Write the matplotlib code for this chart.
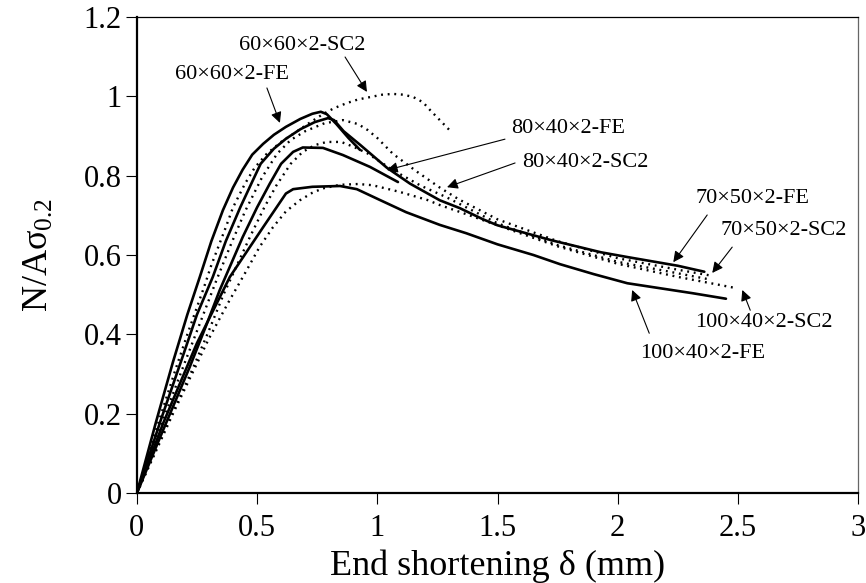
import matplotlib
matplotlib.use("Agg")
import matplotlib.pyplot as plt

# -----------------------------
# FONT SETUP
# -----------------------------
plt.rcParams["font.family"] = ["Liberation Serif", "DejaVu Serif"]
plt.rcParams["mathtext.fontset"] = "custom"
plt.rcParams["mathtext.rm"] = "Liberation Serif"
plt.rcParams["mathtext.it"] = "Liberation Serif:italic"

# -----------------------------
# LOAD-SHORTENING CURVES (end shortening in mm, N/A*sigma_0.2)
# -----------------------------
fe_60x60_x = [0, 0.08, 0.15, 0.21, 0.262, 0.31, 0.358, 0.40, 0.44, 0.48, 0.525, 0.57, 0.62,
              0.68, 0.73, 0.765, 0.79, 0.83, 0.88, 0.928]
fe_60x60_y = [0, 0.18, 0.33, 0.45, 0.545, 0.635, 0.713, 0.77, 0.815, 0.853, 0.88, 0.903, 0.923,
              0.943, 0.956, 0.961, 0.955, 0.93, 0.895, 0.865]

sc2_60x60_x = [0, 0.08, 0.16, 0.21, 0.28, 0.31, 0.37, 0.40, 0.45, 0.49, 0.54, 0.6, 0.65, 0.71,
               0.774, 0.82, 0.874, 0.92, 0.97, 1.02, 1.065, 1.11, 1.15, 1.19, 1.22, 1.26, 1.30]
sc2_60x60_y = [0, 0.16, 0.31, 0.40, 0.52, 0.575, 0.67, 0.72, 0.78, 0.82, 0.855, 0.885, 0.905,
               0.93, 0.955, 0.97, 0.983, 0.992, 0.998, 1.004, 1.006, 1.004, 0.998, 0.985, 0.965,
               0.94, 0.915]

fe_70x50_x = [0, 0.1, 0.19, 0.25, 0.316, 0.37, 0.43, 0.48, 0.515, 0.57, 0.62, 0.68, 0.74,
              0.795, 0.82, 0.86, 0.93, 1.04, 1.136, 1.26, 1.344, 1.44, 1.5, 1.72, 1.93, 2.04,
              2.25, 2.36]
fe_70x50_y = [0, 0.185, 0.343, 0.45, 0.545, 0.635, 0.72, 0.785, 0.83, 0.868, 0.893, 0.917, 0.935,
              0.945, 0.94, 0.912, 0.877, 0.82, 0.78, 0.738, 0.718, 0.69, 0.675, 0.638, 0.607,
              0.595, 0.573, 0.558]

sc2_70x50_x = [0, 0.1, 0.2, 0.27, 0.33, 0.39, 0.45, 0.52, 0.583, 0.64, 0.7, 0.78, 0.857, 0.92,
               0.96, 1.0, 1.065, 1.165, 1.26, 1.34, 1.5, 1.75, 2.0, 2.25, 2.39]
sc2_70x50_y = [0, 0.17, 0.33, 0.44, 0.535, 0.625, 0.71, 0.795, 0.855, 0.89, 0.912, 0.932, 0.94,
               0.93, 0.915, 0.895, 0.855, 0.81, 0.77, 0.74, 0.69, 0.635, 0.592, 0.563, 0.548]

fe_80x40_x = [0, 0.11, 0.22, 0.29, 0.345, 0.44, 0.5, 0.553, 0.6, 0.65, 0.69, 0.774, 0.857,
              0.97, 1.086]
fe_80x40_y = [0, 0.16, 0.318, 0.425, 0.512, 0.645, 0.72, 0.78, 0.83, 0.86, 0.871, 0.870, 0.852,
              0.822, 0.784]

sc2_80x40_x = [0, 0.12, 0.23, 0.30, 0.36, 0.47, 0.53, 0.58, 0.64, 0.69, 0.74, 0.79, 0.85,
               0.9, 0.957, 1.065, 1.18, 1.29, 1.5, 1.75, 2.0, 2.25, 2.37]
sc2_80x40_y = [0, 0.165, 0.31, 0.41, 0.50, 0.645, 0.72, 0.775, 0.83, 0.86, 0.877, 0.885, 0.885,
               0.873, 0.857, 0.814, 0.775, 0.745, 0.68, 0.625, 0.583, 0.554, 0.54]

fe_100x40_x = [0, 0.11, 0.25, 0.387, 0.525, 0.62, 0.65, 0.73, 0.845, 0.915, 1.01, 1.12, 1.26,
               1.37, 1.5, 1.65, 1.76, 1.9, 2.04, 2.31, 2.45]
fe_100x40_y = [0, 0.177, 0.378, 0.545, 0.67, 0.755, 0.766, 0.772, 0.774, 0.766, 0.739, 0.708,
               0.676, 0.655, 0.627, 0.60, 0.577, 0.552, 0.529, 0.504, 0.49]

sc2_100x40_x = [0, 0.15, 0.3, 0.38, 0.457, 0.51, 0.566, 0.62, 0.678, 0.73, 0.774, 0.845, 0.92,
                0.98, 1.094, 1.207, 1.26, 1.37, 1.5, 1.75, 2.0, 2.25, 2.49]
sc2_100x40_y = [0, 0.20, 0.39, 0.48, 0.562, 0.62, 0.67, 0.71, 0.738, 0.757, 0.768, 0.777,
                0.779, 0.776, 0.759, 0.739, 0.726, 0.703, 0.675, 0.622, 0.578, 0.545, 0.517]

# label text, label centre, arrow start, arrow tip
labels = ["60×60×2-SC2", "60×60×2-FE", "80×40×2-FE", "80×40×2-SC2",
          "70×50×2-FE", "70×50×2-SC2", "100×40×2-SC2", "100×40×2-FE"]
label_xy = [(0.687, 1.129), (0.395, 1.054), (1.794, 0.920), (1.864, 0.834),
            (2.559, 0.742), (2.692, 0.663), (2.609, 0.431), (2.355, 0.353)]
arrow_from = [(0.866, 1.099), (0.541, 1.021), (1.531, 0.892), (1.573, 0.832),
              (2.372, 0.701), (2.476, 0.620), (2.551, 0.461), (2.131, 0.403)]
arrow_to = [(0.957, 1.011), (0.595, 0.933), (1.040, 0.814), (1.290, 0.771),
            (2.231, 0.582), (2.393, 0.555), (2.518, 0.512), (2.060, 0.512)]

x_ticks = [0, 0.5, 1, 1.5, 2, 2.5, 3]
x_tick_labels = ["0", "0.5", "1", "1.5", "2", "2.5", "3"]
y_ticks = [0, 0.2, 0.4, 0.6, 0.8, 1.0, 1.2]
y_tick_labels = ["0", "0.2", "0.4", "0.6", "0.8", "1", "1.2"]

# -----------------------------
# PLOT
# -----------------------------
fig = plt.figure(figsize=(8.66, 5.83), dpi=100)
ax = fig.add_axes([0.158, 0.154, 0.833, 0.817])

solid = dict(color="black", lw=1.9, linestyle="-", solid_capstyle="round",
             solid_joinstyle="round")
dotted = dict(color="black", lw=1.7, linestyle=(0, (0.8, 2.0)))

ax.plot(fe_60x60_x, fe_60x60_y, **solid)
ax.plot(fe_70x50_x, fe_70x50_y, **solid)
ax.plot(fe_80x40_x, fe_80x40_y, **solid)
ax.plot(fe_100x40_x, fe_100x40_y, **solid)
ax.plot(sc2_60x60_x, sc2_60x60_y, **dotted)
ax.plot(sc2_70x50_x, sc2_70x50_y, **dotted)
ax.plot(sc2_80x40_x, sc2_80x40_y, **dotted)
ax.plot(sc2_100x40_x, sc2_100x40_y, **dotted)

for text, pos, start, tip in zip(labels, label_xy, arrow_from, arrow_to):
    ax.text(pos[0], pos[1], text, fontsize=16, ha="center", va="center")
    ax.annotate("", xy=tip, xytext=start,
                arrowprops=dict(arrowstyle="-|>", color="black", lw=0.8,
                                mutation_scale=16, shrinkA=0, shrinkB=0))

ax.set_xlim(0, 3)
ax.set_ylim(0, 1.2)
ax.set_xticks(x_ticks)
ax.set_xticklabels(x_tick_labels)
ax.set_yticks(y_ticks)
ax.set_yticklabels(y_tick_labels)
ax.tick_params(direction="out", length=8, width=0.8, labelsize=22)
ax.tick_params(axis="x", pad=7)
ax.tick_params(axis="y", pad=3)

ax.set_xlabel("End shortening δ (mm)", fontsize=26, labelpad=5)
ax.set_ylabel(r"N/Aσ$_{\mathregular{0.2}}$", fontsize=26, labelpad=20)

ax.spines["left"].set_linewidth(1.6)
ax.spines["bottom"].set_linewidth(1.6)
ax.spines["top"].set_linewidth(0.9)
ax.spines["right"].set_linewidth(0.9)
ax.spines["right"].set_color("#666666")

fig.savefig("out.png", dpi=100)
plt.close(fig)
